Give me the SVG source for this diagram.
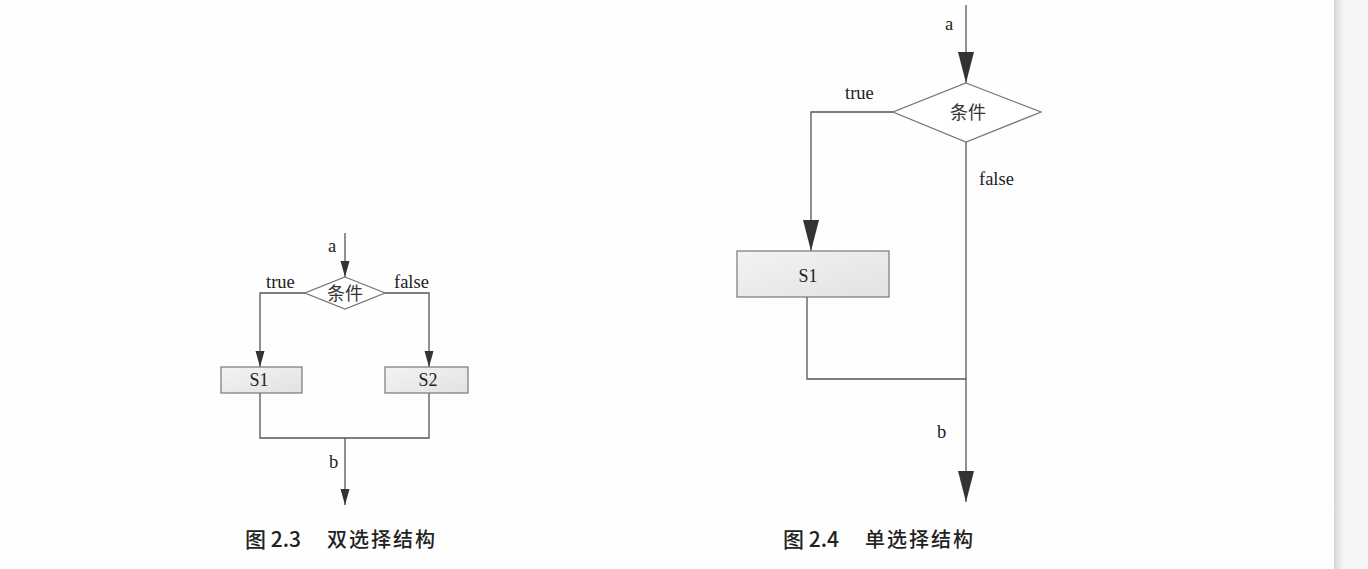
<svg xmlns="http://www.w3.org/2000/svg" width="1368" height="569" viewBox="0 0 1368 569">
<style>
.ln{fill:none;stroke:#555;stroke-width:1.3}
.box{fill:url(#boxg);stroke:#777;stroke-width:1.2}
.dia{fill:#fff;stroke:#777;stroke-width:1.3}
.lb{font-family:"Liberation Serif",serif;font-size:18.5px;fill:#222}
.nt{font-family:"Liberation Serif",serif;font-size:18px;fill:#222;text-anchor:middle}
.cj{font-family:"Noto Sans CJK SC",sans-serif;font-size:18px;fill:#333;text-anchor:middle}
.cap{font-family:"Noto Sans CJK SC",sans-serif;font-size:20px;fill:#222;font-weight:500}
.sp{letter-spacing:2px}
.num{font-size:21px}
</style>
<defs>
<linearGradient id="boxg" x1="0" y1="0" x2="1" y2="1">
<stop offset="0" stop-color="#f3f3f3"/><stop offset="1" stop-color="#e2e2e2"/>
</linearGradient>
<linearGradient id="edge" x1="0" y1="0" x2="1" y2="0">
<stop offset="0" stop-color="#d6d6d8"/><stop offset="1" stop-color="#f4f5f7"/>
</linearGradient>
<marker id="as" markerUnits="userSpaceOnUse" markerWidth="10" markerHeight="17" refX="5" refY="16" orient="0" viewBox="0 0 10 17">
<path d="M0.5,0 L9.5,0 L5,16 Z" fill="#333"/>
</marker>
<marker id="al" markerUnits="userSpaceOnUse" markerWidth="18" markerHeight="32" refX="9" refY="31" orient="0" viewBox="0 0 18 32">
<path d="M1,0 L17,0 L9,31 Z" fill="#333"/>
</marker>
</defs>
<rect x="0" y="0" width="1368" height="569" fill="#fefefe"/>
<rect x="1334" y="0" width="34" height="569" fill="#f4f5f7"/>
<rect x="1334" y="0" width="9" height="569" fill="url(#edge)"/>

<g id="connectors">
<path class="ln" d="M345,233 V277" marker-end="url(#as)"/>
<path class="ln" d="M305,293 H260 V367" marker-end="url(#as)"/>
<path class="ln" d="M385,293 H429 V367" marker-end="url(#as)"/>
<path class="ln" d="M260,393 V438 H429 V393"/>
<path class="ln" d="M345,438 V505" marker-end="url(#as)"/>

<path class="ln" d="M966,5 V83" marker-end="url(#al)"/>
<path class="ln" d="M893,112 H811 V251" marker-end="url(#al)"/>
<path class="ln" d="M807,297 V379 H966"/>
<path class="ln" d="M966,142 V502" marker-end="url(#al)"/>
</g>

<g id="left-cond">
<polygon class="dia" points="345,277 385,293 345,309 305,293"/>
<text class="cj" x="345" y="300">条件</text>
</g>
<g id="left-s1">
<rect class="box" x="221" y="367" width="81" height="26"/>
<text class="nt" x="259" y="386">S1</text>
</g>
<g id="left-s2">
<rect class="box" x="385" y="367" width="83" height="26"/>
<text class="nt" x="428" y="386">S2</text>
</g>
<g id="left-labels">
<text class="lb" x="328" y="252">a</text>
<text class="lb" x="266" y="288">true</text>
<text class="lb" x="394" y="288">false</text>
<text class="lb" x="329" y="468">b</text>
</g>

<g id="right-cond">
<polygon class="dia" points="966,83 1041,112 966,142 893,112"/>
<text class="cj" x="968" y="119">条件</text>
</g>
<g id="right-s1">
<rect class="box" x="737" y="251" width="152" height="46"/>
<text class="nt" x="808" y="282">S1</text>
</g>
<g id="right-labels">
<text class="lb" x="945" y="30">a</text>
<text class="lb" x="845" y="99">true</text>
<text class="lb" x="979" y="185">false</text>
<text class="lb" x="937" y="438">b</text>
</g>

<g id="captions">
<text class="cap num" x="245" y="547">图 2.3</text>
<text class="cap sp" x="327" y="547">双选择结构</text>
<text class="cap num" x="783" y="547">图 2.4</text>
<text class="cap sp" x="865" y="547">单选择结构</text>
</g>
</svg>
